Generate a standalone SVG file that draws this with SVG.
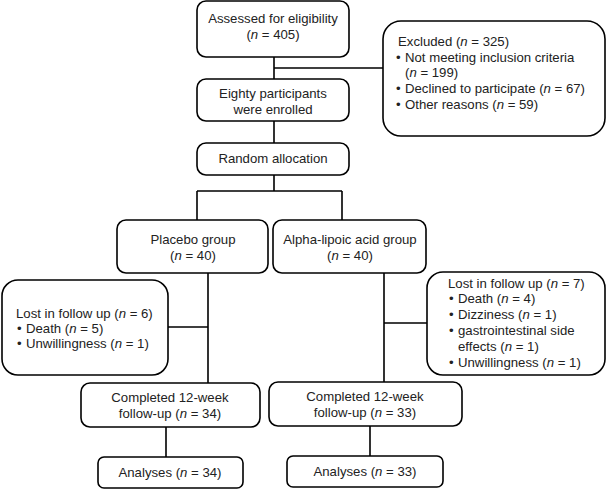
<svg xmlns="http://www.w3.org/2000/svg" width="607" height="490" viewBox="0 0 607 490">
<style>
.b{fill:#fff;stroke:#000;stroke-width:1.6}
.c{stroke:#000;stroke-width:1.6;fill:none}
text{font-family:"Liberation Sans",Arial,sans-serif;font-size:13.2px;fill:#222}
.m{text-anchor:middle}
.i{font-style:italic}
</style>
<rect width="607" height="490" fill="#fff"/>
<g id="connectors">
<path class="c" d="M274 57V79M274 121V143M274 175V191M274 68H383M197 191H342M197 191V220M342 191V220M208 273V383M168 327H208M384 273V382M384 323H427M166 427V457M370 426V456"/>
</g>
<g id="assessed"><rect class="b" x="197" y="1" width="152" height="56" rx="9"/>
<text class="m" x="273" y="23">Assessed for eligibility</text>
<text class="m" x="273" y="39">(<tspan class="i">n</tspan> = 405)</text></g>
<g id="excluded"><rect class="b" x="383" y="21" width="222" height="115" rx="18"/>
<text x="398" y="46">Excluded (<tspan class="i">n</tspan> = 325)</text>
<text x="396" y="62">•</text><text x="405" y="62">Not meeting inclusion criteria</text>
<text x="405" y="77">(<tspan class="i">n</tspan> = 199)</text>
<text x="396" y="93">•</text><text x="405" y="93">Declined to participate (<tspan class="i">n</tspan> = 67)</text>
<text x="396" y="109">•</text><text x="405" y="109">Other reasons (<tspan class="i">n</tspan> = 59)</text></g>
<g id="enrolled"><rect class="b" x="197" y="79" width="152" height="42" rx="9"/>
<text class="m" x="273" y="98">Eighty participants</text>
<text class="m" x="273" y="114">were enrolled</text></g>
<g id="random"><rect class="b" x="197" y="143" width="152" height="32" rx="9"/>
<text class="m" x="273" y="163">Random allocation</text></g>
<g id="placebo"><rect class="b" x="117" y="220" width="151" height="53" rx="9"/>
<text class="m" x="193" y="244">Placebo group</text>
<text class="m" x="193" y="260">(<tspan class="i">n</tspan> = 40)</text></g>
<g id="alpha"><rect class="b" x="273" y="220" width="153" height="53" rx="9"/>
<text class="m" x="350" y="244">Alpha-lipoic acid group</text>
<text class="m" x="350" y="260">(<tspan class="i">n</tspan> = 40)</text></g>
<g id="lostL"><rect class="b" x="2" y="280" width="166" height="95" rx="16"/>
<text x="16" y="318">Lost in follow up (<tspan class="i">n</tspan> = 6)</text>
<text x="17" y="333">•</text><text x="26" y="333">Death (<tspan class="i">n</tspan> = 5)</text>
<text x="17" y="348">•</text><text x="26" y="348">Unwillingness (<tspan class="i">n</tspan> = 1)</text></g>
<g id="lostR"><rect class="b" x="427" y="272" width="178" height="103" rx="16"/>
<text x="448" y="288">Lost in follow up (<tspan class="i">n</tspan> = 7)</text>
<text x="449" y="303">•</text><text x="458" y="303">Death (<tspan class="i">n</tspan> = 4)</text>
<text x="449" y="319">•</text><text x="458" y="319">Dizziness (<tspan class="i">n</tspan> = 1)</text>
<text x="449" y="335">•</text><text x="458" y="335">gastrointestinal side</text>
<text x="458" y="351">effects (<tspan class="i">n</tspan> = 1)</text>
<text x="449" y="367">•</text><text x="458" y="367">Unwillingness (<tspan class="i">n</tspan> = 1)</text></g>
<g id="completedL"><rect class="b" x="81" y="383" width="179" height="44" rx="9"/>
<text class="m" x="170" y="402">Completed 12-week</text>
<text class="m" x="170" y="418">follow-up (<tspan class="i">n</tspan> = 34)</text></g>
<g id="completedR"><rect class="b" x="269" y="382" width="193" height="44" rx="9"/>
<text class="m" x="365" y="401">Completed 12-week</text>
<text class="m" x="365" y="417">follow-up (<tspan class="i">n</tspan> = 33)</text></g>
<g id="analysesL"><rect class="b" x="98" y="457" width="145" height="31" rx="6"/>
<text class="m" x="170" y="477">Analyses (<tspan class="i">n</tspan> = 34)</text></g>
<g id="analysesR"><rect class="b" x="287" y="456" width="156" height="31" rx="6"/>
<text class="m" x="365" y="476">Analyses (<tspan class="i">n</tspan> = 33)</text></g>
</svg>
